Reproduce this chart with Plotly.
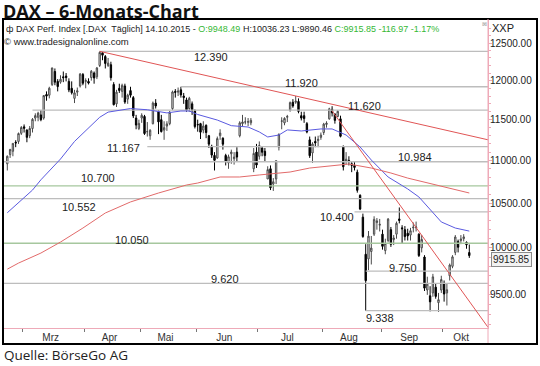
import math
import plotly.graph_objects as go

# ---------------- data ----------------
dates = [
 "2015-02-20","2015-02-23","2015-02-24","2015-02-25","2015-02-26","2015-02-27",
 "2015-03-02","2015-03-03","2015-03-04","2015-03-05","2015-03-06","2015-03-09","2015-03-10","2015-03-11","2015-03-12","2015-03-13",
 "2015-03-16","2015-03-17","2015-03-18","2015-03-19","2015-03-20","2015-03-23","2015-03-24","2015-03-25","2015-03-26","2015-03-27",
 "2015-03-30","2015-03-31",
 "2015-04-01","2015-04-02","2015-04-07","2015-04-08","2015-04-09","2015-04-10","2015-04-13","2015-04-14","2015-04-15","2015-04-16",
 "2015-04-17","2015-04-20","2015-04-21","2015-04-22","2015-04-23","2015-04-24","2015-04-27","2015-04-28","2015-04-29","2015-04-30",
 "2015-05-04","2015-05-05","2015-05-06","2015-05-07","2015-05-08","2015-05-11","2015-05-12","2015-05-13","2015-05-14","2015-05-15",
 "2015-05-18","2015-05-19","2015-05-20","2015-05-21","2015-05-22","2015-05-25","2015-05-26","2015-05-27","2015-05-28","2015-05-29",
 "2015-06-01","2015-06-02","2015-06-03","2015-06-04","2015-06-05","2015-06-08","2015-06-09","2015-06-10","2015-06-11","2015-06-12",
 "2015-06-15","2015-06-16","2015-06-17","2015-06-18","2015-06-19","2015-06-22","2015-06-23","2015-06-24","2015-06-25","2015-06-26",
 "2015-06-29","2015-06-30",
 "2015-07-01","2015-07-02","2015-07-03","2015-07-06","2015-07-07","2015-07-08","2015-07-09","2015-07-10","2015-07-13","2015-07-14",
 "2015-07-15","2015-07-16","2015-07-17","2015-07-20","2015-07-21","2015-07-22","2015-07-23","2015-07-24","2015-07-27","2015-07-28",
 "2015-07-29","2015-07-30","2015-07-31",
 "2015-08-03","2015-08-04","2015-08-05","2015-08-06","2015-08-07","2015-08-10","2015-08-11","2015-08-12","2015-08-13","2015-08-14",
 "2015-08-17","2015-08-18","2015-08-19","2015-08-20","2015-08-21","2015-08-24","2015-08-25","2015-08-26","2015-08-27","2015-08-28",
 "2015-08-31",
 "2015-09-01","2015-09-02","2015-09-03","2015-09-04","2015-09-07","2015-09-08","2015-09-09","2015-09-10","2015-09-11","2015-09-14",
 "2015-09-15","2015-09-16","2015-09-17","2015-09-18","2015-09-21","2015-09-22","2015-09-23","2015-09-24","2015-09-25","2015-09-28",
 "2015-09-29","2015-09-30",
 "2015-10-01","2015-10-02","2015-10-05","2015-10-06","2015-10-07","2015-10-08","2015-10-09","2015-10-12","2015-10-13","2015-10-14",
]
opens = [
 10960,11070,11110,11220,11230,11330,
 11410,11370,11300,11390,11520,11530,11560,11520,11820,11810,11950,12120,11990,11980,12050,12060,11990,11900,11770,11850,11930,12080,
 11990,11990,12040,12100,12050,12200,12370,12320,12200,12210,11950,11700,11900,11860,11930,11760,11870,11780,11520,11390,
 11520,11540,11350,11300,11450,11710,11600,11500,11370,11420,11450,11640,11860,11850,11880,11800,11750,11640,11700,11610,
 11440,11450,11370,11430,11300,11170,11060,11030,11300,11270,11060,10970,11080,11020,11100,11300,11450,11470,11470,11460,10900,11100,
 11050,11150,11110,10780,10900,10720,10780,11160,11480,11460,11530,11620,11720,11720,11730,11550,11550,11450,11250,11090,11230,11240,11280,
 11340,11440,11510,11630,11570,11540,11510,11170,10990,11000,10960,10940,10860,10590,10340,9930,9880,9960,10150,10280,10250,
 10150,9970,10080,10200,10090,10150,10320,10220,10200,10160,10140,10220,10220,10150,10000,9900,9550,9490,9520,9580,9420,9550,
 9620,9520,9700,9800,9950,10070,10080,10100,10060,9948.49,
]
highs = [
 11060,11140,11210,11245,11340,11420,
 11440,11380,11420,11520,11580,11600,11620,11810,11860,11920,12170,12160,12020,12070,12120,12100,12030,11990,11880,11910,12100,12100,
 12030,12030,12140,12120,12180,12391,12380,12340,12300,12250,11980,11880,11960,11960,11960,11830,11920,11800,11560,11500,
 11580,11560,11470,11380,11730,11760,11620,11560,11480,11480,11610,11870,11890,11910,11920,11840,11780,11790,11730,11630,
 11500,11460,11480,11440,11310,11190,11100,11290,11380,11280,11080,11070,11130,11100,11160,11480,11560,11530,11520,11520,11150,11200,
 11230,11160,11150,10930,10940,10790,11000,11330,11530,11530,11560,11730,11760,11800,11770,11600,11600,11470,11290,11220,11290,11300,11340,
 11460,11480,11650,11670,11580,11620,11550,11180,11100,11050,10990,10990,10890,10600,10380,10040,10185,10130,10350,10330,10320,
 10200,10100,10330,10230,10140,10290,10450,10250,10240,10210,10220,10280,10290,10160,10140,9920,9690,9590,9720,9620,9520,9700,
 9650,9620,9830,9920,10140,10090,10140,10150,10070,10036.23,
]
lows = [
 10880,11030,11050,11160,11200,11310,
 11340,11220,11270,11340,11480,11480,11480,11500,11740,11770,11930,11940,11860,11960,11980,11990,11850,11820,11710,11800,11910,11940,
 11900,11950,12000,11960,12020,12180,12270,12160,12180,12000,11680,11660,11840,11780,11700,11700,11780,11520,11380,11370,
 11460,11310,11290,11250,11440,11640,11320,11340,11250,11360,11430,11620,11780,11800,11780,11700,11600,11600,11560,11390,
 11350,11260,11330,11270,11150,11030,10880,11020,11250,11130,10940,10900,10960,10950,10990,11280,11420,11440,11420,11430,10860,10910,
 11010,11050,10990,10780,10650,10640,10720,11120,11380,11430,11470,11600,11650,11700,11580,11490,11460,11330,11030,10970,11160,11160,11250,
 11310,11400,11500,11540,11450,11530,11280,10880,10950,10940,10860,10880,10620,10420,10110,9338,9760,9820,10130,10200,10180,
 9980,9930,10060,10010,10030,10100,10270,10050,10080,10080,10080,10170,10180,9900,9950,9540,9500,9330,9480,9460,9325,9520,
 9430,9390,9650,9780,9920,9950,10040,10070,9990,9890.46,
]
closes = [
 11050,11131,11206,11211,11327,11402,
 11393,11280,11390,11504,11551,11582,11500,11806,11799,11901,12167,11980,11922,12018,12039,12040,11879,11843,11841,11868,12086,11966,
 12001,11968,12123,12035,12166,12375,12338,12227,12231,12039,11689,11850,11872,11939,11723,11811,11811,11547,11432,11454,
 11555,11327,11351,11368,11710,11673,11472,11351,11400,11447,11592,11853,11848,11864,11815,11780,11625,11771,11621,11413,
 11436,11344,11420,11340,11197,11064,11001,11265,11333,11196,10984,11044,11100,11040,11040,11460,11471,11472,11473,11492,11084,10945,
 11180,11099,11058,10890,10677,10747,10997,11316,11484,11516,11540,11716,11673,11734,11604,11520,11513,11347,11057,11199,11212,11257,11308,
 11444,11456,11637,11585,11491,11605,11293,10924,11014,10985,10940,10916,10647,10432,10124,9648,10128,9997,10315,10298,10259,
 10016,10048,10318,10038,10108,10271,10303,10210,10123,10131,10188,10227,10229,9916,10092,9570,9612,9428,9688,9484,9450,9660,
 9509,9553,9814,9902,10119,10006,10097,10120,10033,9915.85,
]

# moving averages
ma_blue_dates = ["2015-02-20","2015-03-05","2015-03-10","2015-03-19","2015-03-26","2015-04-10","2015-04-15","2015-04-27",
                 "2015-05-06","2015-05-15","2015-05-22","2015-05-27","2015-06-01","2015-06-10","2015-06-17","2015-06-25",
                 "2015-07-01","2015-07-06","2015-07-10","2015-07-15","2015-07-22","2015-07-31","2015-08-06","2015-08-13",
                 "2015-08-20","2015-08-26","2015-09-03","2015-09-14","2015-09-18","2015-09-24","2015-09-30","2015-10-07","2015-10-14"]
ma_blue_vals = [10390,10650,10770,11017,11230,11530,11595,11640,
                11625,11585,11609,11609,11565,11495,11425,11408,
                11347,11285,11309,11372,11359,11384,11384,11309,
                11162,11005,10803,10663,10570,10421,10286,10218,10184]
ma_red_dates = ["2015-02-20","2015-02-26","2015-03-10","2015-03-19","2015-03-31","2015-04-14","2015-04-27","2015-05-12",
                "2015-05-26","2015-06-01","2015-06-11","2015-06-22","2015-07-01","2015-07-16","2015-07-27","2015-08-07",
                "2015-08-14","2015-08-26","2015-09-04","2015-09-14","2015-09-28","2015-10-14"]
ma_red_vals = [9770,9835,9943,10063,10218,10387,10513,10616,
               10709,10732,10803,10803,10827,10862,10909,10945,
               10957,10909,10850,10790,10709,10616]

# trend lines: start date/value, value at the right chart edge
trend_starts = ["2015-04-10", "2015-08-06"]
trend_start_vals = [12390, 11610]
trend_end_vals = [11250, 9170]

# horizontal levels
levels = [12390, 11920, 11620, 11167, 10984, 10700, 10552, 10400, 10050, 9750, 9620, 9338]
level_starts = ["2015-04-10", "2015-05-22", "2015-03-05", "2015-05-06", None, None, None, "2015-08-18",
                None, "2015-08-24", None, "2015-08-24"]
level_labels = ["12.390", "11.920", "11.620", "11.167", "10.984", "10.700", "10.552", "10.400",
                "10.050", "9.750", "9.620", "9.338"]
green_levels = [10700, 10050]

month_nums = [3, 4, 5, 6, 7, 8, 9, 10]
month_names = ["Mrz", "Apr", "Mai", "Jun", "Jul", "Aug", "Sep", "Okt"]
ytick_vals = [9500, 10000, 10500, 11000, 11500, 12000, 12500]
last_close = 9915.85

# ---------------- layout helpers ----------------
W, H = 540, 366
L, R, T, B = 4, 488, 20, 328
XMIN, XMAX = -1.18, 171.68
YMIN, YMAX = 3.962026, 4.107895

def px(x):
    return (x - L) / (R - L)

def py(y):
    return (B - y) / (B - T)

idx = {d: i for i, d in enumerate(dates)}
xs = list(range(len(dates)))

FONT = "Liberation Sans, Arial, sans-serif"
PINK = "#eeaab8"

fig = go.Figure()

# level lines (behind candles)
for lv, st in zip(levels, level_starts):
    x0 = XMIN if st is None else idx[st]
    col = "#a6c79e" if lv in green_levels else "#bdbdbd"
    fig.add_trace(go.Scatter(x=[x0, XMAX], y=[lv, lv], mode="lines",
                             line=dict(color=col, width=1.3), hoverinfo="skip", showlegend=False))

# candles
fig.add_trace(go.Candlestick(
    x=xs, open=opens, high=highs, low=lows, close=closes,
    increasing=dict(line=dict(color="#4a4a4a", width=1), fillcolor="#f4f4f4"),
    decreasing=dict(line=dict(color="#000000", width=1), fillcolor="#000000"),
    whiskerwidth=0, showlegend=False, hoverinfo="skip"))

# moving averages
fig.add_trace(go.Scatter(x=[idx[d] for d in ma_blue_dates], y=ma_blue_vals, mode="lines",
                         line=dict(color="#5a5ae0", width=1), hoverinfo="skip", showlegend=False))
fig.add_trace(go.Scatter(x=[idx[d] for d in ma_red_dates], y=ma_red_vals, mode="lines",
                         line=dict(color="#e26a6a", width=1), hoverinfo="skip", showlegend=False))

# trend lines
for st, v0, v1 in zip(trend_starts, trend_start_vals, trend_end_vals):
    fig.add_trace(go.Scatter(x=[idx[st], XMAX], y=[v0, v1], mode="lines",
                             line=dict(color="#e05555", width=1), hoverinfo="skip", showlegend=False))

# month ticks: boundaries at month starts, labels near the middle of the visible month
bounds, mids = [], []
for m in month_nums:
    ii = [i for i, d in enumerate(dates) if int(d[5:7]) == m]
    bounds.append(ii[0] - 0.5)
    last = ii[-1] if m != month_nums[-1] else XMAX - 1.5
    mids.append((ii[0] + last) / 2 - 1)

annotations = []
# level labels (pixel positions)
label_pos = [(211, 57), (301, 83), (364, 105.5), (123, 148), (415, 157), (98, 178),
             (79, 207), (337, 217.5), (132, 240), (403, 268), (225, 279), (380, 318)]
for txt, (lx, ly) in zip(level_labels, label_pos):
    annotations.append(dict(x=px(lx), y=py(ly), xref="paper", yref="paper", text=txt,
                            showarrow=False, xanchor="center", yanchor="middle",
                            font=dict(family=FONT, size=11, color="#222")))

# header lines
g = "#35b835"
head1 = ("ф DAX Perf. Index [.DAX&nbsp; Täglich] 14.10.2015 - "
         f"<span style='color:{g}'>O:9948.49</span> H:10036.23 L:9890.46 "
         f"<span style='color:{g}'>C:9915.85 -116.97 -1.17%</span>")
annotations.append(dict(x=px(5), y=py(28.5), xref="paper", yref="paper", text=head1, showarrow=False,
                        xanchor="left", yanchor="middle", borderpad=0,
                        font=dict(family=FONT, size=9, color="#222")))
annotations.append(dict(x=px(3), y=py(41), xref="paper", yref="paper", text="© www.tradesignalonline.com",
                        showarrow=False, xanchor="left", yanchor="middle", borderpad=0,
                        font=dict(family=FONT, size=9.5, color="#222")))
annotations.append(dict(x=px(490), y=py(28), xref="paper", yref="paper", text="XXP", showarrow=False,
                        xanchor="left", yanchor="middle", font=dict(family=FONT, size=11, color="#222")))
annotations.append(dict(x=px(484), y=py(24), xref="paper", yref="paper", text="⊠", showarrow=False,
                        xanchor="center", yanchor="middle", font=dict(family=FONT, size=6, color="#999")))
# last price marker
annotations.append(dict(x=px(491), y=math.log10(last_close), xref="paper", yref="y", yshift=-4,
                        text=f"{last_close:.2f}", showarrow=False, xanchor="left", yanchor="middle",
                        bgcolor="#f2f2f2", bordercolor="#8a8a8a", borderwidth=1, borderpad=1,
                        font=dict(family=FONT, size=10, color="#222")))
# title & source
annotations.append(dict(x=px(2), y=py(11.5), xref="paper", yref="paper", text="<b>DAX – 6-Monats-Chart</b>",
                        showarrow=False, xanchor="left", yanchor="middle", borderpad=0,
                        font=dict(family="Open Sans, sans-serif", size=18, color="#111")))
annotations.append(dict(x=px(2), y=py(355), xref="paper", yref="paper", text="Quelle: BörseGo AG",
                        showarrow=False, xanchor="left", yanchor="middle",
                        font=dict(family="Open Sans, sans-serif", size=13.5, color="#222")))

shapes = [
    dict(type="rect", xref="paper", yref="paper", x0=px(3), x1=px(537), y0=py(344), y1=py(19),
         line=dict(color="#000", width=2), fillcolor="rgba(0,0,0,0)", layer="above"),
    dict(type="line", xref="paper", yref="paper", x0=1, x1=1, y0=py(343), y1=py(19),
         line=dict(color=PINK, width=1)),
]

fig.update_layout(
    width=W, height=H,
    margin=dict(l=L, r=W - R, t=T, b=H - B),
    paper_bgcolor="white", plot_bgcolor="white",
    showlegend=False, hovermode=False,
    annotations=annotations, shapes=shapes,
    xaxis=dict(range=[XMIN, XMAX], rangeslider=dict(visible=False), showgrid=False, zeroline=False,
               showline=True, linecolor=PINK, linewidth=1,
               tickmode="array", tickvals=mids, ticktext=month_names, ticks="",
               tickfont=dict(family=FONT, size=10, color="#333"),
               minor=dict(tickmode="array", tickvals=bounds, ticks="outside", ticklen=3,
                          tickcolor="#777", tickwidth=1, showgrid=False)),
    yaxis=dict(type="log", range=[YMIN, YMAX], side="right", showgrid=False, zeroline=False,
               showline=True, linecolor=PINK, linewidth=1,
               tickmode="array", tickvals=ytick_vals, ticktext=[f"{v:.2f}" for v in ytick_vals],
               ticks="outside", ticklen=3, tickcolor=PINK, ticklabelstandoff=-4,
               tickfont=dict(family=FONT, size=10, color="#222"),
               minor=dict(tickmode="array", tickvals=list(range(9200, 12800, 100)), ticks="outside",
                          ticklen=2, tickcolor=PINK, showgrid=False)),
)

fig.write_html("out.html", config={"displayModeBar": False},
               post_script="document.body.style.margin='0';")
